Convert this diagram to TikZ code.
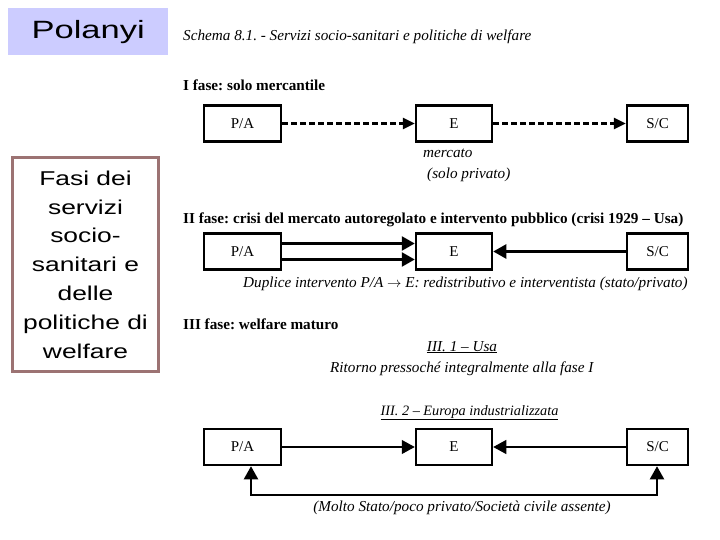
\documentclass[tikz,border=0pt]{standalone}
\usepackage{fontspec}
\setmainfont{Liberation Serif}
\newfontfamily\arialw[FakeStretch=1.32]{Liberation Sans}
\newfontfamily\arialp[FakeStretch=1.38]{Liberation Sans}
\usetikzlibrary{arrows.meta}
\definecolor{lav}{HTML}{CCCCFF}
\definecolor{rosy}{HTML}{9C7373}
\frenchspacing
\begin{document}
\begin{tikzpicture}[x=1pt,y=-1pt,
  box/.style={draw,line width=2.5pt,minimum height=36pt,inner sep=0pt,font=\fontsize{15}{17}\selectfont},
  lbl/.style={anchor=base west,inner sep=0pt,font=\fontsize{15.2}{18}\selectfont},
  clbl/.style={anchor=base,inner sep=0pt,font=\fontsize{15.2}{18}\selectfont},
  tip/.style={-{Triangle[length=12pt,width=11pt]}},
  bigtip/.style={-{Triangle[length=13pt,width=14pt]}},
]
\useasboundingbox (0,0) rectangle (720,540);
% left panel
\node[fill=lav, minimum width=160pt, minimum height=47pt, inner sep=0pt, anchor=north west,
      font=\arialp\fontsize{25}{29}\selectfont] (pol) at (8,8) {Polanyi};
\node[draw=rosy, line width=3pt, minimum width=146pt, minimum height=214pt, inner sep=0pt,
      anchor=north west] (side) at (11,156) {};
\node[align=center, inner sep=0pt, font=\arialw\fontsize{20}{28.8}\selectfont] (sidetext)
      at (side.center) {Fasi dei\\servizi\\socio-\\sanitari e\\delle\\politiche di\\welfare};
% titles
\node[lbl, font=\itshape\fontsize{15.2}{18}\selectfont] (title) at (183,41)
  {Schema 8.1. - Servizi socio-sanitari e politiche di welfare};
\node[lbl, font=\bfseries\fontsize{15.2}{18}\selectfont] (f1) at (183,91) {I fase: solo mercantile};
% row 1
\node[box, minimum width=77pt] (pa1) at (242.5,123.5) {P/A};
\node[box, minimum width=76pt] (e1) at (454,123.5) {E};
\node[box, minimum width=61pt] (sc1) at (657.5,123.5) {S/C};
\draw[tip, line width=2.5pt, dash pattern=on 6pt off 3pt] (pa1) -- (e1);
\draw[tip, line width=2.5pt, dash pattern=on 6pt off 3pt] (e1) -- (sc1);
\node[lbl, font=\itshape\fontsize{15.2}{18}\selectfont] (merc) at (423,158) {mercato};
\node[lbl, font=\itshape\fontsize{15.2}{18}\selectfont] (solo) at (427,179) {(solo privato)};
% row 2
\node[lbl, font=\bfseries\fontsize{15.2}{18}\selectfont] (f2) at (183,223)
  {II fase: crisi del mercato autoregolato e intervento pubblico (crisi 1929 – Usa)};
\node[box, minimum width=77pt] (pa2) at (242.5,251.5) {P/A};
\node[box, minimum width=76pt] (e2) at (454,251.5) {E};
\node[box, minimum width=61pt] (sc2) at (657.5,251.5) {S/C};
\draw[bigtip, line width=2.5pt] ([yshift=8pt]pa2.east) -- ([yshift=8pt]e2.west);
\draw[bigtip, line width=2.5pt] ([yshift=-8pt]pa2.east) -- ([yshift=-8pt]e2.west);
\draw[bigtip, line width=2.5pt] (sc2) -- (e2);
\node[lbl, font=\itshape\fontsize{15.2}{18}\selectfont] (dup) at (243,287)
  {Duplice intervento P/A $\rightarrow$ E: redistributivo e interventista (stato/privato)};
% row 3
\node[lbl, font=\bfseries\fontsize{15.2}{18}\selectfont] (f3) at (183,329) {III fase: welfare maturo};
\node[clbl, font=\itshape\fontsize{15.2}{18}\selectfont] (usa) at (462,351) {\underline{III. 1 – Usa}};
\node[lbl, font=\itshape\fontsize{15.2}{18}\selectfont] (rit) at (330,372) {Ritorno pressoché integralmente alla fase I};
\node[clbl, font=\itshape\fontsize{14.3}{17}\selectfont] (eur) at (469.5,415) {\underline{III. 2 – Europa industrializzata}};
\node[box, minimum width=77pt] (pa3) at (242.5,447) {P/A};
\node[box, minimum width=76pt] (e3) at (454,447) {E};
\node[box, minimum width=61pt] (sc3) at (657.5,447) {S/C};
\draw[bigtip, line width=1.2pt] (pa3) -- (e3);
\draw[bigtip, line width=1.2pt] (sc3) -- (e3);
\coordinate (bl) at (251,495);
\coordinate (br) at (657,495);
\draw[{Triangle[length=13pt,width=14pt]}-{Triangle[length=13pt,width=14pt]}, line width=2pt]
  (pa3.south -| bl) -- (bl) -- (br) -- (sc3.south -| br);
\node[clbl, font=\itshape\fontsize{15.2}{18}\selectfont] (molto) at (462,511)
  {(Molto Stato/poco privato/Società civile assente)};
\end{tikzpicture}
\end{document}
